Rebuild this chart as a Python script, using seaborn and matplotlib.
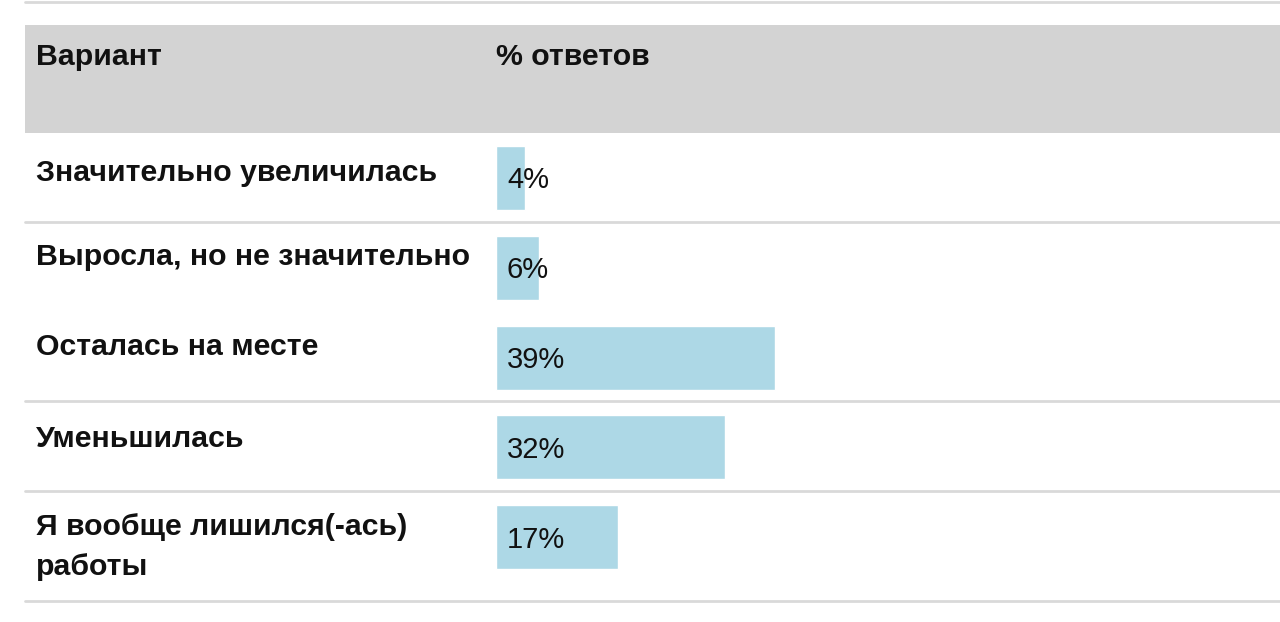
import matplotlib
matplotlib.use("Agg")
import matplotlib.pyplot as plt
import seaborn as sns
import pandas as pd
from matplotlib.patches import Rectangle
from matplotlib.lines import Line2D

categories = ["Значительно увеличилась", "Выросла, но не значительно",
              "Осталась на месте", "Уменьшилась", "Я вообще лишился(-ась)\nработы"]
values = [4, 6, 39, 32, 17]
value_labels = ["4%", "6%", "39%", "32%", "17%"]
header_left = "Вариант"
header_right = "% ответов"

W, H = 1280, 622
sns.set_theme(style="white")
plt.rcParams['font.family'] = ['Liberation Sans', 'DejaVu Sans']

fig = plt.figure(figsize=(W / 100, H / 100), dpi=100)
fig.patch.set_facecolor("white")

def fx(px):
    return px / W

def fy(py):
    return 1 - py / H

FS = 21
FS_BOLD = 21.8
PT = 0.72  # points per pixel at dpi 100

# header band
fig.add_artist(Rectangle((fx(25), fy(133)), fx(1280) - fx(25), (133 - 25) / H,
                         transform=fig.transFigure, facecolor="#d3d3d3", edgecolor="none", zorder=0))
# separators
for py in [1.5, 222, 401, 491, 601]:
    fig.add_artist(Line2D([fx(25), 1], [fy(py), fy(py)], transform=fig.transFigure,
                          color="#d9d9d9", linewidth=2.0, zorder=1))

# bar axes
x0 = 496
ax = fig.add_axes([fx(x0), 0, 1 - fx(x0), 1])
df = pd.DataFrame({"cat": categories, "val": values})
sns.barplot(data=df, y="cat", x="val", color="#add8e6", saturation=1, width=64 / 89.75,
            orient="h", ax=ax, zorder=2)
px_per_pct = 279 / 39
ax.set_xlim(0, (W - x0) / px_per_pct)
step = 89.75
ax.set_ylim((H - 178) / step, -178 / step)
ax.axis("off")
ax.patch.set_alpha(0)

for i, lab in enumerate(value_labels):
    ax.annotate(lab, xy=(0, i), xytext=(11 * PT, -10.5 * PT), textcoords="offset points",
                ha="left", va="baseline", fontsize=FS, color="#111111", zorder=3,
                annotation_clip=False)

# texts
txt_kw = dict(fontsize=FS_BOLD, fontweight="bold", color="#111111", ha="left", va="baseline")
fig.text(fx(36), fy(65), header_left, **txt_kw)
fig.text(fx(x0), fy(65), header_right, **txt_kw)
baselines = [181, 265, 355, 447, 535]
for cat, b in zip(categories, baselines):
    for k, line in enumerate(cat.split("\n")):
        fig.text(fx(36), fy(b + 40 * k), line, **txt_kw)

fig.savefig("out.png", dpi=100, facecolor="white")
